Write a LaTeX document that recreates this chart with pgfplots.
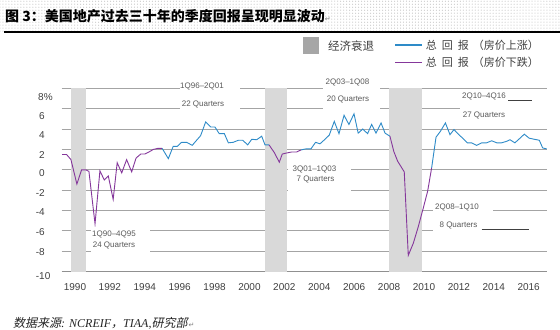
\documentclass[border=0pt]{standalone}
\usepackage{fontspec}
\setmainfont{Liberation Sans}
\newfontfamily\cjk{Noto Sans CJK SC}
\newfontfamily\cjkit{Noto Sans CJK SC}[FakeSlant=0.22]
\newfontfamily\tnr{Liberation Serif}
\newfontfamily\dejavu{DejaVu Sans}
\usepackage{pgfplots}
\pgfplotsset{compat=1.18}
\usetikzlibrary{patterns}
\definecolor{blueline}{HTML}{2E8BC8}
\definecolor{purpleline}{HTML}{85379B}
\definecolor{recgray}{HTML}{D9D9D9}
\definecolor{leggray}{HTML}{A6A6A6}
\definecolor{gridgray}{HTML}{A4A4A4}
\definecolor{axisgray}{HTML}{909090}
\definecolor{ticktext}{HTML}{404040}
\definecolor{anntext}{HTML}{595959}

\pgfplotstableread{
x y
1989.27 1.5
1989.52 1.5
1989.77 1.0
1990.11 -1.4
1990.38 0.0
1990.61 0.0
1990.80 -0.15
1991.15 -5.3
1991.43 -0.1
1991.68 -1.0
1991.91 -0.6
1992.19 -2.9
1992.42 0.7
1992.68 -0.3
1992.96 1.0
1993.25 -0.2
1993.50 1.15
1993.77 1.55
1994.01 1.55
1994.24 1.75
1994.49 2.0
1994.74 2.1
1995.00 2.1
}\downA
\pgfplotstableread{
x y
1995.00 2.1
1995.35 1.1
1995.63 2.3
1995.86 2.3
1996.11 2.7
1996.40 2.7
1996.72 2.4
1996.97 2.9
1997.20 3.35
1997.49 4.7
1997.78 4.2
1998.02 4.2
1998.27 3.55
1998.56 3.55
1998.79 2.65
1999.07 2.7
1999.36 2.9
1999.61 2.9
1999.90 2.45
2000.13 3.0
2000.41 2.95
2000.70 3.3
2000.89 2.45
2001.12 2.45
}\upA
\pgfplotstableread{
x y
2001.12 2.45
2001.42 1.7
2001.71 0.75
2001.88 1.55
2002.13 1.65
2002.42 1.75
2002.70 1.75
2002.95 1.95
}\downB
\pgfplotstableread{
x y
2002.95 1.95
2003.22 2.05
2003.52 2.05
2003.79 2.7
2004.04 2.55
2004.33 3.0
2004.57 3.4
2004.86 4.75
2005.13 3.55
2005.42 5.35
2005.70 4.45
2005.99 5.5
2006.23 3.6
2006.49 4.0
2006.77 3.55
2007.00 4.45
2007.25 3.6
2007.54 4.6
2007.77 3.6
2008.05 3.3
}\upB
\pgfplotstableread{
x y
2008.05 3.3
2008.27 1.8
2008.49 0.85
2008.87 -0.2
2009.10 -8.4
2009.39 -7.2
2009.67 -5.6
2009.96 -3.75
2010.21 -2.1
2010.44 0.2
}\downC
\pgfplotstableread{
x y
2010.44 0.2
2010.69 3.2
2010.95 3.8
2011.23 4.6
2011.49 3.45
2011.72 3.95
2011.97 3.5
2012.25 3.05
2012.48 2.65
2012.73 2.65
2013.02 2.4
2013.31 2.65
2013.59 2.65
2013.88 2.85
2014.17 2.65
2014.45 2.65
2014.74 2.8
2014.93 2.95
2015.21 2.65
2015.50 3.1
2015.75 3.5
2016.03 3.1
2016.32 3.0
2016.61 2.9
2016.80 2.15
2017.03 2.05
}\upC

\begin{document}
\begin{tikzpicture}[
  ann/.style={inner sep=0pt, text=anntext, font=\fontsize{8bp}{9bp}\selectfont},
  ylab/.style={anchor=west, inner sep=0pt, text=ticktext, font=\fontsize{10bp}{12bp}\selectfont}]
\useasboundingbox (0,0) rectangle (560bp,-330bp);
\fill[white] (0,0) rectangle (560bp,-330bp);
\begin{scope}[x=1bp,y=-1bp]
% title band
\fill[pattern=dots, pattern color=gray!60] (0,0) rectangle (560,31);
\draw[line width=2.2bp, black] (4,32.3) -- (560,32.3);
\node[anchor=west, inner sep=0pt, font=\cjk\bfseries\fontsize{14bp}{16bp}\selectfont] at (5,16)
  {图 3：美国地产过去三十年的季度回报呈现明显波动{\dejavu\mdseries\color{gray}\fontsize{7bp}{8bp}\selectfont ↵}};
% horizontal grid lines of the plot area (values 8, 6, ..., -8)
\foreach \gy in {88.3,108.7,129.1,149.4,169.8,190.2,210.6,230.9,251.3}{
  \draw[gridgray, line width=1bp] (61.7,\gy) -- (547,\gy);
}
\end{scope}

\begin{axis}[
  at={(61.7bp,-271.7bp)}, anchor=south west,
  scale only axis, width=485.3bp, height=183.4bp,
  xmin=1989.24, xmax=2017.05, ymin=-10, ymax=8,
  axis x line*=bottom, axis y line=none,
  x axis line style={axisgray, line width=0.9bp, -},
  xtick style={draw=none},
  xtick={1990,1992,...,2016},
  ytick=\empty,
  /pgf/number format/1000 sep={},
  /pgf/number format/assume math mode=true,
  xticklabel style={font=\fontsize{10bp}{12bp}\selectfont, text=ticktext, anchor=north, inner sep=0pt, yshift=-12bp},
]
\addplot[fill=recgray, draw=none, forget plot] coordinates {(1989.77,-10) (1989.77,8) (1990.63,8) (1990.63,-10)};
\addplot[fill=recgray, draw=none, forget plot] coordinates {(2000.89,-10) (2000.89,8) (2002.17,8) (2002.17,-10)};
\addplot[fill=recgray, draw=none, forget plot] coordinates {(2008.01,-10) (2008.01,8) (2009.87,8) (2009.87,-10)};
\addplot[purpleline, line width=0.9bp, no marks] table {\downA};
\addplot[blueline, line width=0.9bp, no marks] table {\upA};
\addplot[purpleline, line width=0.9bp, no marks] table {\downB};
\addplot[blueline, line width=0.9bp, no marks] table {\upB};
\addplot[purpleline, line width=0.9bp, no marks] table {\downC};
\addplot[blueline, line width=0.9bp, no marks] table {\upC};
\end{axis}

\begin{scope}[x=1bp,y=-1bp]
% y tick labels (set a little below their grid lines, as in the reference)
\node[ylab] at (38,96.7) {8\%};
\node[ylab] at (39,115.7) {6};
\node[ylab] at (39,135) {4};
\node[ylab] at (39,155) {2};
\node[ylab] at (39,173.3) {0};
\node[ylab] at (39,193.3) {\llap{-}2};
\node[ylab] at (39,211.7) {\llap{-}4};
\node[ylab] at (39,231.7) {\llap{-}6};
\node[ylab] at (39,251.7) {\llap{-}8};
\node[ylab] at (39,275.7) {\llap{-}10};
% annotations
\fill[white] (180,79) rectangle (240,113);
\node[ann] at (202,86) {1Q96–2Q01};
\node[ann] at (203,104) {22 Quarters};
\fill[white] (91,227) rectangle (150,256);
\node[ann] at (114,234) {1Q90–4Q95};
\node[ann] at (114,245) {24 Quarters};
\fill[white] (288,162) rectangle (351,193);
\node[ann] at (314.5,169.3) {3Q01–1Q03};
\node[ann] at (315.5,179.3) {7 Quarters};
\fill[white] (323,76) rectangle (380,112);
\node[ann] at (347.5,82) {2Q03–1Q08};
\node[ann] at (348,99) {20 Quarters};
\fill[white] (460,92) rectangle (548,118);
\node[ann] at (484,96.7) {2Q10–4Q16};
\draw[ticktext, line width=0.8bp] (508,100) -- (532,100);
\node[ann] at (484,115) {27 Quarters};
\fill[white] (432.7,201) rectangle (493,215);
\node[ann] at (457,207.3) {2Q08–1Q10};
\fill[white] (432.7,219) rectangle (548,236);
\node[ann] at (458.5,225.7) {8 Quarters};
\draw[ticktext, line width=0.8bp] (481.7,229) -- (529.3,229);

% legend
\fill[leggray] (303,37) rectangle (319,54);
\node[anchor=west, inner sep=0pt, text=ticktext, font=\cjk\fontsize{11.5bp}{13bp}\selectfont] at (328,45.7) {经济衰退};
\draw[blueline, line width=1.6bp] (395,45) -- (422,45);
\draw[purpleline, line width=1.6bp] (395,62.3) -- (422,62.3);
\node[anchor=west, inner sep=0pt, text=ticktext, font=\cjk\fontsize{11bp}{13bp}\selectfont] at (425.7,45.7) {总\hspace{5bp}回\hspace{5bp}报\hspace{4bp}（房价上涨）};
\node[anchor=west, inner sep=0pt, text=ticktext, font=\cjk\fontsize{11bp}{13bp}\selectfont] at (425.7,62.3) {总\hspace{5bp}回\hspace{5bp}报\hspace{4bp}（房价下跌）};

% source
\node[anchor=west, inner sep=0pt, text=black!85, font=\fontsize{12bp}{14bp}\selectfont] at (13,323.3)
  {{\cjkit 数据来源}{\tnr\itshape : NCREIF}{\cjkit ，}{\tnr\itshape TIAA,}{\cjkit 研究部}\hspace{1bp}{\dejavu\color{gray}\fontsize{7bp}{8bp}\selectfont ↵}};
\end{scope}
\end{tikzpicture}
\end{document}
